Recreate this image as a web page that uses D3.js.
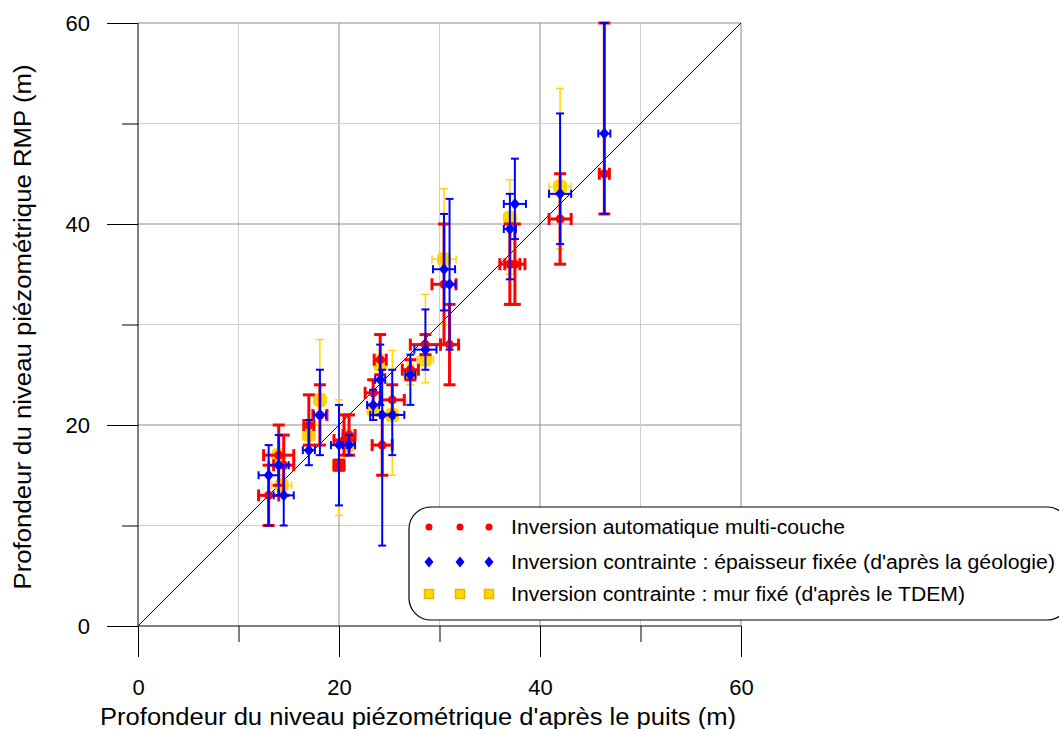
<!DOCTYPE html>
<html lang="fr">
<head>
<meta charset="UTF-8">
<title>Profondeur du niveau piézométrique</title>
<script src="https://d3js.org/d3.v7.min.js"></script>
<style>
    body { margin: 0; background: #fff; font-family: "Liberation Sans", Arial, sans-serif; }
    svg { display: block; }
    .tick text { font-size: 22px; fill: #000; }
    .tick line, .domain { stroke: #000; }
</style>
</head>
<body>
<svg width="1059" height="729"></svg>
<script>
// [x, y, yLow, yHigh, xErr]
var autoPts = [
    [13, 13, 10, 16, 1],
    [14, 17, 14, 20, 1.5],
    [14.5, 16, 13, 19, 1],
    [17, 20, 18, 23, 0.5],
    [18.1, 21, 18, 24, 0.7],
    [20, 16, 15.5, 16.5, 0.5],
    [20.5, 18.5, 17, 21, 1],
    [21, 19, 17, 21, 0.6],
    [23.4, 23.2, 22, 24.5, 0.8],
    [24.1, 26.5, 25, 29, 0.6],
    [24.3, 18, 15, 21, 1],
    [25.3, 22.5, 21, 24, 1.2],
    [27.1, 25.5, 24.5, 26.5, 0.8],
    [28.6, 28, 27, 29, 1.5],
    [30.45, 34, 28, 40, 1.2],
    [31, 28, 24, 32, 0.9],
    [37, 36, 32, 40, 1],
    [37.5, 36, 32, 40, 1],
    [42, 40.5, 36, 45, 1.1],
    [46.4, 45, 41, 60, 0.5]
];
var epaisseurPts = [
    [13, 15, 10, 18, 1],
    [14, 16, 13, 19, 1],
    [14.5, 13, 10, 16, 1],
    [17, 17.5, 16, 20.5, 0.6],
    [18.1, 21, 17, 25.5, 0.6],
    [20, 18, 12, 22, 0.8],
    [21, 18, 17, 19, 0.6],
    [23.4, 22, 20.5, 23.5, 0.6],
    [24.1, 24.5, 22, 28, 0.5],
    [24.3, 21, 8, 25.5, 1.2],
    [25.3, 21, 17, 25.5, 1.2],
    [27.1, 25, 22, 27, 0.5],
    [28.6, 27.5, 25.5, 31.5, 1.1],
    [30.45, 35.5, 31.4, 41, 1.1],
    [31, 34, 27.5, 42.5, 0.6],
    [37, 39.5, 34.5, 43, 0.6],
    [37.5, 42, 38.5, 46.5, 1.1],
    [42, 43, 38, 51, 1.1],
    [46.4, 49, 41, 60, 0.6]
];
var murPts = [
    [14, 17, 15, 19, 0.5],
    [14.3, 14, 13.5, 14.5, 1],
    [17, 19, 17.5, 20.5, 0.5],
    [18.1, 22.5, 20, 28.5, 0.5],
    [20, 16, 11, 22.5, 0.5],
    [21, 18, 17, 19.5, 0.5],
    [23.4, 21.5, 20.5, 23, 0.5],
    [24.1, 26, 25, 27, 0.5],
    [25.3, 21, 15, 27.4, 0.5],
    [27.1, 25, 24, 26, 0.5],
    [28.6, 26.5, 24.2, 33, 0.8],
    [30.45, 36.5, 30, 43.5, 1.2],
    [37, 40.6, 35, 44.4, 0.5],
    [42, 43.7, 37.5, 53.5, 1.1]
];
var majorTicks = [0, 20, 40, 60];
var minorTicks = [10, 30, 50];
var legendLabels = [
    "Inversion automatique multi-couche",
    "Inversion contrainte : épaisseur fixée (d'après la géologie)",
    "Inversion contrainte : mur fixé (d'après le TDEM)"
];

var svg = d3.select("svg");
var x = d3.scaleLinear().domain([0, 60]).range([138, 741]);
var y = d3.scaleLinear().domain([0, 60]).range([626, 23]);

// grid
var grid = svg.append("g");
[10, 20, 30, 40, 50, 60].forEach(function(v) {
    var col = (v % 20 === 0) ? "#8c8c8c" : "#cfcfcf";
    grid.append("line").attr("x1", x(v)).attr("x2", x(v)).attr("y1", y(0)).attr("y2", y(60))
        .attr("stroke", col).attr("stroke-width", 1);
    grid.append("line").attr("x1", x(0)).attr("x2", x(60)).attr("y1", y(v)).attr("y2", y(v))
        .attr("stroke", col).attr("stroke-width", 1);
});

// axes
svg.append("g").attr("transform", "translate(0," + y(0) + ")")
    .call(d3.axisBottom(x).tickValues(majorTicks).tickSize(31).tickPadding(22).tickFormat(d3.format("d")))
    .call(function(g) { g.select(".domain").remove(); });
svg.append("g").attr("transform", "translate(0," + y(0) + ")")
    .call(d3.axisBottom(x).tickValues(minorTicks).tickSize(16).tickFormat(""))
    .call(function(g) { g.select(".domain").remove(); });
svg.append("g").attr("transform", "translate(" + x(0) + ",0)")
    .call(d3.axisLeft(y).tickValues(majorTicks).tickSize(31).tickPadding(17).tickFormat(d3.format("d")))
    .call(function(g) { g.select(".domain").remove(); });
svg.append("g").attr("transform", "translate(" + x(0) + ",0)")
    .call(d3.axisLeft(y).tickValues(minorTicks).tickSize(16).tickFormat(""))
    .call(function(g) { g.select(".domain").remove(); });
svg.append("line").attr("x1", x(0)).attr("x2", x(60)).attr("y1", y(0)).attr("y2", y(0)).attr("stroke", "#000");
svg.append("line").attr("x1", x(0)).attr("x2", x(0)).attr("y1", y(0)).attr("y2", y(60)).attr("stroke", "#000");

// 1:1 line
svg.append("line").attr("x1", x(0)).attr("y1", y(0)).attr("x2", x(60)).attr("y2", y(60))
    .attr("stroke", "#000").attr("stroke-width", 1);

// axis titles (condensed like the original)
svg.append("text").attr("x", 418).attr("y", 725).attr("text-anchor", "middle")
    .attr("font-size", 23).attr("textLength", 636).attr("lengthAdjust", "spacingAndGlyphs")
    .text("Profondeur du niveau piézométrique d'après le puits (m)");
svg.append("text").attr("transform", "translate(31,327) rotate(-90)").attr("text-anchor", "middle")
    .attr("font-size", 23).attr("textLength", 525).attr("lengthAdjust", "spacingAndGlyphs")
    .text("Profondeur du niveau piézométrique RMP (m)");

function errorBars(data, color, sw, cap) {
    var g = svg.append("g").attr("stroke", color).attr("stroke-width", sw).attr("fill", "none");
    data.forEach(function(d) {
        var cx = x(d[0]), cy = y(d[1]), lo = y(d[2]), hi = y(d[3]);
        var xl = x(d[0] - d[4]), xr = x(d[0] + d[4]);
        g.append("line").attr("x1", cx).attr("x2", cx).attr("y1", lo).attr("y2", hi);
        g.append("line").attr("x1", cx - cap).attr("x2", cx + cap).attr("y1", lo).attr("y2", lo);
        g.append("line").attr("x1", cx - cap).attr("x2", cx + cap).attr("y1", hi).attr("y2", hi);
        g.append("line").attr("x1", xl).attr("x2", xr).attr("y1", cy).attr("y2", cy);
        g.append("line").attr("x1", xl).attr("x2", xl).attr("y1", cy - cap).attr("y2", cy + cap);
        g.append("line").attr("x1", xr).attr("x2", xr).attr("y1", cy - cap).attr("y2", cy + cap);
    });
}

function drawMarker(g, kind, px, py, big) {
    if (kind === "circle") {
        g.append("circle").attr("cx", px).attr("cy", py).attr("r", big ? 4.5 : 3.5).attr("fill", "#ff0000");
    } else if (kind === "diamond") {
        var h = big ? 6 : 5.5, w = big ? 5 : 4.5;
        g.append("path").attr("d", "M" + px + "," + (py - h) + "L" + (px + w) + "," + py + "L" + px + "," + (py + h) + "L" + (px - w) + "," + py + "Z")
            .attr("fill", "#0000ff");
    } else {
        var s = big ? 12 : 9;
        g.append("rect").attr("x", px - s / 2).attr("y", py - s / 2).attr("width", s).attr("height", s)
            .attr("fill", "#ffd700").attr("stroke", big ? "#ffd700" : "#f0b400").attr("stroke-width", big ? 2 : 1.5)
            .attr("rx", big ? 3.5 : 0);
    }
}

// yellow, then red, then blue on top
errorBars(murPts, "#ffd700", 1.5, 4);
var gm = svg.append("g");
murPts.forEach(function(d) { drawMarker(gm, "square", x(d[0]), y(d[1]), true); });

errorBars(autoPts, "#ff0000", 3, 6);
var ga = svg.append("g");
autoPts.forEach(function(d) { drawMarker(ga, "circle", x(d[0]), y(d[1]), true); });

errorBars(epaisseurPts, "#0000ff", 2, 4);
var ge = svg.append("g");
epaisseurPts.forEach(function(d) { drawMarker(ge, "diamond", x(d[0]), y(d[1]), true); });

// legend
var lg = svg.append("g");
lg.append("rect").attr("x", 409).attr("y", 507).attr("width", 660).attr("height", 113)
    .attr("rx", 22).attr("ry", 22).attr("fill", "#fff").attr("stroke", "#000").attr("stroke-width", 1.2);
var kinds = ["circle", "diamond", "square"];
var rowY = [527, 562, 594];
var rowLen = [334, 544, 454];
legendLabels.forEach(function(t, i) {
    [429, 460, 489].forEach(function(mx) { drawMarker(lg, kinds[i], mx, rowY[i], false); });
    lg.append("text").attr("x", 511).attr("y", rowY[i] + 7).attr("font-size", 20)
        .attr("textLength", rowLen[i]).attr("lengthAdjust", "spacingAndGlyphs").text(t);
});
</script>
</body>
</html>
